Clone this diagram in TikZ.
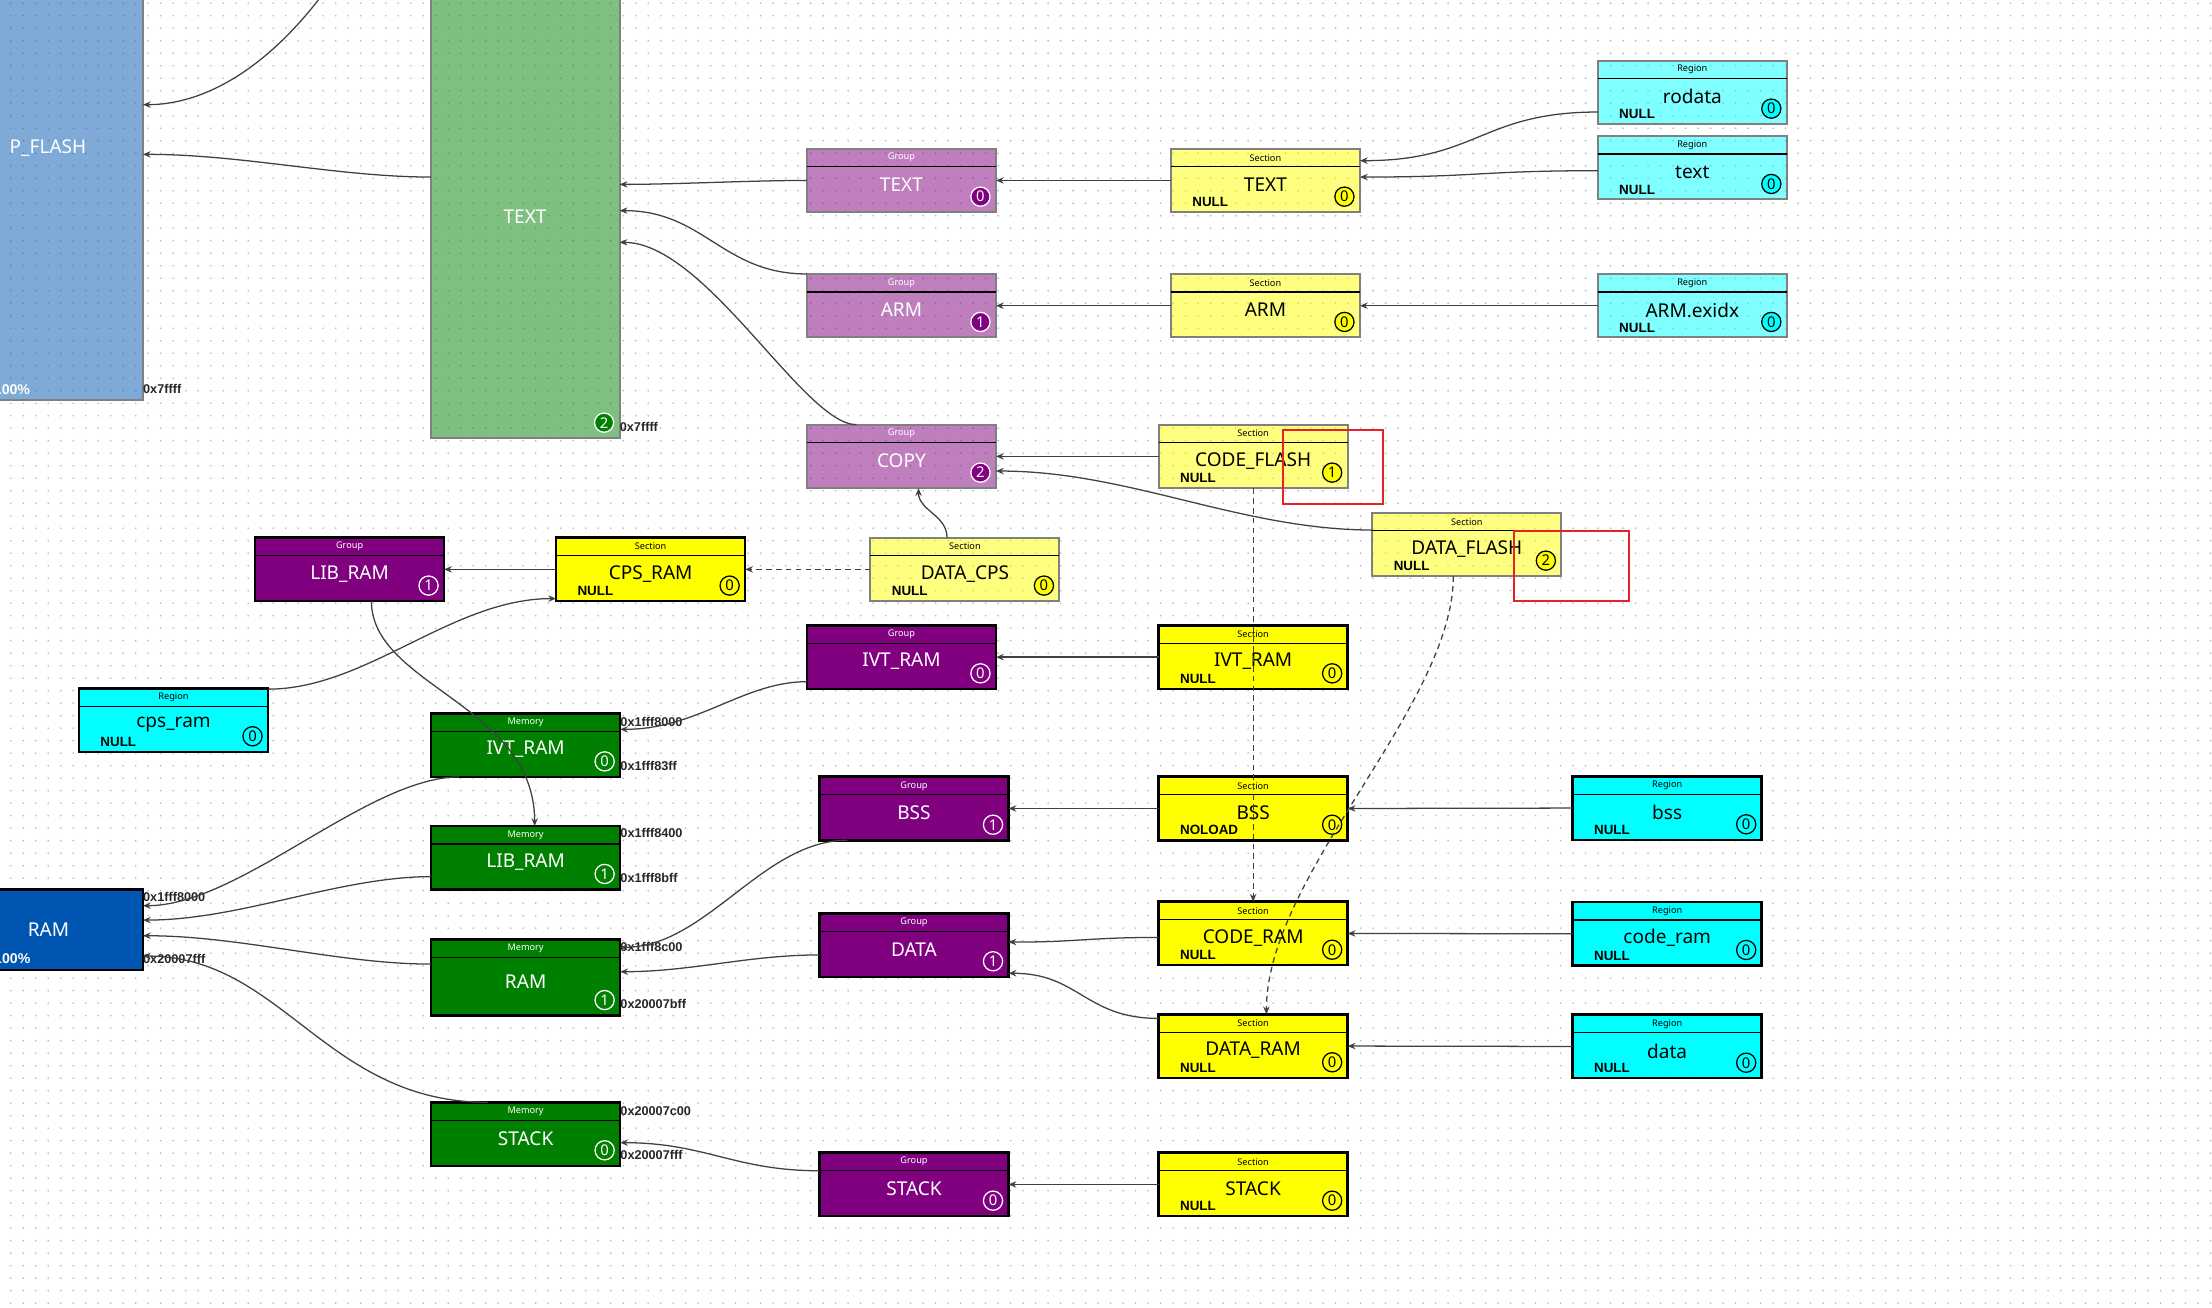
\documentclass[tikz,border=0pt]{standalone}
\usepackage{fontspec}
\setmainfont{Noto Sans}
\newfontfamily\boldsans{Liberation Sans}
\usetikzlibrary{calc,arrows.meta}
\definecolor{cGrp}{HTML}{800080}
\definecolor{cSec}{HTML}{FFFF00}
\definecolor{cReg}{HTML}{00FFFF}
\definecolor{cMem}{HTML}{008000}
\definecolor{cBlue}{HTML}{0055B0}
\definecolor{cLine}{HTML}{404040}
\definecolor{cRed}{HTML}{E8202A}
\newcommand\fMain{\fontsize{13.5}{14}\selectfont}
\newcommand\fHdr{\fontsize{6.5}{7}\selectfont}
\newcommand\fNul{\boldsans\bfseries\fontsize{9.5}{10}\selectfont}
\newcommand\fAdr{\boldsans\bfseries\fontsize{9}{10}\selectfont}
\newcommand\fPct{\boldsans\bfseries\fontsize{10}{11}\selectfont}
\newcommand\fBdg{\fontsize{10.5}{11}\selectfont}
\tikzset{
  boxbase/.style={rectangle, anchor=north west, minimum width=134pt, inner sep=0pt, outer sep=0pt},
  lightbox/.style={fill opacity=0.5, draw=black!50, line width=1.4pt},
  darkbox/.style={draw=black, line width=1.8pt},
  bdg/.style={circle, minimum size=13.6pt, inner sep=0pt, line width=0.9pt, font=\fBdg},
  grpL/.style={boxbase, lightbox, fill=cGrp},
  grpD/.style={boxbase, darkbox, fill=cGrp},
  secL/.style={boxbase, lightbox, fill=cSec},
  secD/.style={boxbase, darkbox, fill=cSec},
  regL/.style={boxbase, lightbox, fill=cReg},
  regD/.style={boxbase, darkbox, fill=cReg},
  memD/.style={boxbase, darkbox, fill=cMem},
  grpLtxt/.style={text=white, inner sep=0pt},
  grpDtxt/.style={text=white, inner sep=0pt},
  secLtxt/.style={text=black, inner sep=0pt},
  secDtxt/.style={text=black, inner sep=0pt},
  regLtxt/.style={text=black, inner sep=0pt},
  regDtxt/.style={text=black, inner sep=0pt},
  memDtxt/.style={text=white, inner sep=0pt},
  grpLbdg/.style={bdg, fill=cGrp, draw=white, text=white},
  grpDbdg/.style={bdg, fill=cGrp, draw=white, text=white},
  secLbdg/.style={bdg, fill=cSec, draw=black, text=black},
  secDbdg/.style={bdg, fill=cSec, draw=black, text=black},
  regLbdg/.style={bdg, fill=cReg, draw=black, text=black},
  regDbdg/.style={bdg, fill=cReg, draw=black, text=black},
  memDbdg/.style={bdg, fill=cMem, draw=white, text=white},
  hdrline/.style={draw=black, line width=0.9pt},
  nulltxt/.style={font=\fNul, text=black, inner sep=0pt, anchor=west},
  addr/.style={font=\fAdr, text=black!85, inner sep=0pt, anchor=west},
  bigtxt/.style={font=\fMain, text=white, inner sep=0pt},
  pcttxt/.style={font=\fPct, text=white, inner sep=0pt, anchor=east},
  conn/.style={draw=cLine, line width=0.9pt, -{Stealth[length=5.5pt,width=4.5pt]}},
  dconn/.style={conn, dash pattern=on 4pt off 3pt},
  redbox/.style={rectangle, draw=cRed, line width=1.4pt, anchor=north west, inner sep=0pt},
  dotrow/.style={draw=black!28, line width=1.3pt, line cap=round, dash pattern=on 0pt off 8.86pt}
}
% name, x, y, height, kind, header, label, null-text, badge
\newcommand\mkbox[9]{%
  \node[#5, minimum height=#4pt] (#1) at (#2,#3) {};
  \draw[hdrline] ($(#1.north west)+(0,12.8)$) -- ($(#1.north east)+(0,12.8)$);
  \node[#5txt, font=\fHdr] (#1-h) at ($(#1.north)+(0,6.4)$) {#6};
  \node[#5txt, font=\fMain] (#1-l) at ($(#1.north)+(0,{(12.8+#4)/2-3.3})$) {#7};
  \node[nulltxt] (#1-n) at ($(#1.south west)+(15,-7)$) {#8};
  \node[#5bdg] (#1-b) at ($(#1.south east)+(-11,-11)$) {#9};
}
\begin{document}
\begin{tikzpicture}[x=1pt,y=-1pt]
\clip (0,0) rectangle (1568,927);
\fill[white] (0,0) rectangle (1568,927);
\foreach \yy in {2.3,11.16,...,927} \draw[dotrow] (7.6,\yy) -- (1568,\yy);

% big memory blocks
\node[boxbase, lightbox, fill=cBlue, minimum width=121.3pt, minimum height=303.6pt] (pflash) at (-20,-20) {};
\node[bigtxt] (pflash-l) at ($(pflash.north west)+(54,125.2)$) {P\_FLASH};
\node[pcttxt] (pflash-p) at ($(pflash.south west)+(41.5,-7.6)$) {100\%};
\node[addr] (pflash-a) at ($(pflash.south east)+(0,-8)$) {0x7ffff};

\node[boxbase, lightbox, fill=cMem, minimum width=133.8pt, minimum height=330.7pt] (mtext) at (305.4,-20) {};
\node[bigtxt] (mtext-l) at ($(mtext.north west)+(66.8,173.6)$) {TEXT};
\node[memDbdg] (mtext-b) at ($(mtext.south east)+(-11,-11.1)$) {2};
\node[addr] (mtext-a) at ($(mtext.south east)+(0,-7.8)$) {0x7ffff};

\node[boxbase, darkbox, fill=cBlue, minimum width=121.3pt, minimum height=57.2pt] (ram) at (-20,630.4) {};
\node[bigtxt] (ram-l) at ($(ram.north west)+(54.4,28.4)$) {RAM};
\node[pcttxt] (ram-p) at ($(ram.south west)+(41.7,-7.8)$) {100\%};
\node[addr] (ram-a1) at ($(ram.north east)+(0,5.6)$) {0x1fff8000};
\node[addr] (ram-a2) at ($(ram.south east)+(0,-7.6)$) {0x20007fff};

% groups
\mkbox{gtext}{572}{105.4}{45}{grpL}{Group}{TEXT}{}{0}
\mkbox{garm}{572}{194.2}{45}{grpL}{Group}{ARM}{}{1}
\mkbox{gcopy}{572}{301}{45}{grpL}{Group}{COPY}{}{2}
\mkbox{glib}{180.8}{381.1}{45}{grpD}{Group}{LIB\_RAM}{}{1}
\mkbox{givt}{572}{443.3}{45}{grpD}{Group}{IVT\_RAM}{}{0}
\mkbox{gbss}{580.9}{550.6}{45}{grpD}{Group}{BSS}{}{1}
\mkbox{gdata}{580.9}{647.4}{45}{grpD}{Group}{DATA}{}{1}
\mkbox{gstack}{580.9}{817.1}{45}{grpD}{Group}{STACK}{}{0}

% sections
\mkbox{stext}{830}{105.4}{45}{secL}{Section}{TEXT}{NULL}{0}
\mkbox{sarm}{830}{194.2}{45}{secL}{Section}{ARM}{}{0}
\mkbox{scflash}{821.3}{301}{45}{secL}{Section}{CODE\_FLASH}{NULL}{1}
\mkbox{sdflash}{972.8}{363.4}{45}{secL}{Section}{DATA\_FLASH}{NULL}{2}
\mkbox{sdcps}{617}{381.1}{45}{secL}{Section}{DATA\_CPS}{NULL}{0}
\mkbox{scps}{394.2}{381.1}{45}{secD}{Section}{CPS\_RAM}{NULL}{0}
\mkbox{sivt}{821.3}{443.3}{45}{secD}{Section}{IVT\_RAM}{NULL}{0}
\mkbox{sbss}{821.3}{550.6}{45}{secD}{Section}{BSS}{NOLOAD}{0}
\mkbox{scram}{821.3}{639.2}{45}{secD}{Section}{CODE\_RAM}{NULL}{0}
\mkbox{sdram}{821.3}{719}{45}{secD}{Section}{DATA\_RAM}{NULL}{0}
\mkbox{sstack}{821.3}{817.1}{45}{secD}{Section}{STACK}{NULL}{0}

% regions
\mkbox{rrodata}{1132.6}{43}{45}{regL}{Region}{rodata}{NULL}{0}
\mkbox{rtext}{1132.6}{96.4}{45}{regL}{Region}{text}{NULL}{0}
\mkbox{rarm}{1132.6}{194.2}{45}{regL}{Region}{ARM.exidx}{NULL}{0}
\mkbox{rcps}{56}{487.9}{45}{regD}{Region}{cps\_ram}{NULL}{0}
\mkbox{rbss}{1114.8}{550.3}{45}{regD}{Region}{bss}{NULL}{0}
\mkbox{rcram}{1114.8}{639.4}{45}{regD}{Region}{code\_ram}{NULL}{0}
\mkbox{rdata}{1114.8}{719.3}{45}{regD}{Region}{data}{NULL}{0}

% memories
\mkbox{mivt}{305.6}{505.7}{45}{memD}{Memory}{IVT\_RAM}{}{0}
\mkbox{mlib}{305.6}{585.5}{45}{memD}{Memory}{LIB\_RAM}{}{1}
\mkbox{mram}{305.6}{665.9}{54}{memD}{Memory}{RAM}{}{1}
\mkbox{mstack}{305.6}{781.4}{45}{memD}{Memory}{STACK}{}{0}

\node[addr] (mivt-a1) at ($(mivt.north east)+(0,6)$) {0x1fff8000};
\node[addr] (mivt-a2) at ($(mivt.south east)+(0,-8)$) {0x1fff83ff};
\node[addr] (mlib-a1) at ($(mlib.north east)+(0,5.2)$) {0x1fff8400};
\node[addr] (mlib-a2) at ($(mlib.south east)+(0,-8.3)$) {0x1fff8bff};
\node[addr] (mram-a1) at ($(mram.north east)+(0,5.6)$) {0x1fff8c00};
\node[addr] (mram-a2) at ($(mram.south east)+(0,-8.3)$) {0x20007bff};
\node[addr] (mstack-a1) at ($(mstack.north east)+(0,6.2)$) {0x20007c00};
\node[addr] (mstack-a2) at ($(mstack.south east)+(0,-7.7)$) {0x20007fff};

% highlight frames
\node[redbox, minimum width=70.4pt, minimum height=52.7pt] (hl1) at (909,304.1) {};
\node[redbox, minimum width=82pt, minimum height=49.6pt] (hl2) at (1072.3,375.7) {};

% connectors
\coordinate (topin) at (240,-20);
\draw[conn] (topin) .. controls +(-40,60) and +(50,0) .. ($(pflash.north east)+(0,94.2)$);
\draw[conn] ($(mtext.north west)+(0,145.5)$) .. controls +(-65,0) and +(70,0) .. ($(pflash.north east)+(0,129.4)$);
\draw[conn] (gtext.west) .. controls +(-40,0) and +(40,0) .. ($(mtext.north east)+(0,150.7)$);
\draw[conn] (garm.north west) .. controls +(-60,0) and +(60,0) .. ($(mtext.north east)+(0,169.3)$);
\draw[conn] ($(gcopy.north west)+(35,0)$) .. controls +(-37,0) and +(61,0) .. ($(mtext.north east)+(0,191.8)$);
\draw[conn] (stext.west) -- (gtext.east);
\draw[conn] (sarm.west) -- (garm.east);
\draw[conn] ($(rrodata.west)+(0,13.9)$) .. controls +(-82,0) and +(83,0) .. ($(stext.east)+(0,-14)$);
\draw[conn] ($(rtext.west)+(0,2.1)$) .. controls +(-82,0) and +(83,0) .. ($(stext.east)+(0,-2.4)$);
\draw[conn] (rarm.west) -- (sarm.east);
\draw[conn] (scflash.west) -- (gcopy.east);
\draw[conn] ($(sdflash.west)+(0,-10.2)$) .. controls +(-93,0) and +(94,0) .. ($(gcopy.east)+(0,10.4)$);
\draw[conn] ($(sdcps.north)+(-12.7,0)$) .. controls +(0,-16) and +(0,16) .. ($(gcopy.south)+(12.1,0)$);
\draw[dconn] (sdcps.west) -- (scps.east);
\draw[conn] (scps.west) -- (glib.east);
\draw[conn] ($(rcps.north east)+(0,0.6)$) .. controls +(70,0) and +(-74,0) .. ($(scps.south west)+(0,-1.8)$);
\draw[conn] ($(glib.south)+(15.5,0)$) .. controls +(0,60) and +(0,-86) .. ($(mlib.north)+(6.4,0)$);
\draw[conn] ($(givt.west)+(0,17.4)$) .. controls +(-45,0) and +(55,0) .. ($(mivt.north east)+(0,11.3)$);
\draw[conn] (sivt.west) -- (givt.east);
\draw[dconn] (scflash.south) -- (scram.north);
\draw[dconn] ($(sdflash.south)+(-9.6,0)$) .. controls +(0,92) and +(0,-99) .. ($(sdram.north)+(9.4,0)$);
\draw[conn] (sbss.west) -- (gbss.east);
\draw[conn] (rbss.west) -- (sbss.east);
\draw[conn] ($(gbss.south west)+(19.7,0)$) .. controls +(-60,0) and +(61,0) .. ($(mram.north east)+(0,5.6)$);
\draw[conn] ($(gdata.west)+(0,7)$) .. controls +(-50,0) and +(50,0) .. ($(mram.east)+(0,-4.1)$);
\draw[conn] ($(scram.west)+(0,2.8)$) .. controls +(-50,0) and +(50,0) .. ($(gdata.east)+(0,-2.1)$);
\draw[conn] ($(sdram.north west)+(0,2.9)$) .. controls +(-52,0) and +(50,0) .. ($(gdata.south east)+(0,-2.5)$);
\draw[conn] (rcram.west) -- (scram.east);
\draw[conn] (rdata.west) -- (sdram.east);
\draw[conn] (sstack.west) -- (gstack.east);
\draw[conn] ($(gstack.west)+(0,-9.7)$) .. controls +(-60,0) and +(60,0) .. ($(mstack.east)+(0,6.1)$);
\draw[conn] ($(mivt.south west)+(20,0)$) .. controls +(-65,0) and +(69,0) .. ($(ram.north east)+(0,11.6)$);
\draw[conn] ($(mlib.west)+(0,13.4)$) .. controls +(-65,0) and +(69,0) .. ($(ram.north east)+(0,21.8)$);
\draw[conn] ($(mram.west)+(0,-9.5)$) .. controls +(-65,0) and +(69,0) .. ($(ram.north east)+(0,32.9)$);
\draw[conn] ($(mstack.north west)+(40,0)$) .. controls +(-115,0) and +(99,0) .. ($(ram.north east)+(0,47.3)$);
\end{tikzpicture}
\end{document}
